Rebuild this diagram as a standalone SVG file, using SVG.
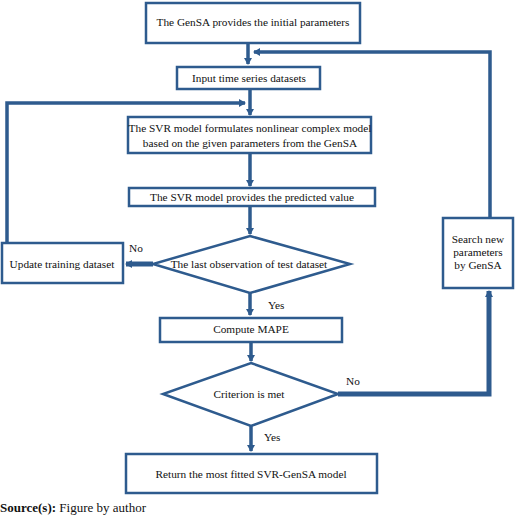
<svg xmlns="http://www.w3.org/2000/svg" width="520" height="520" viewBox="0 0 520 520">
<style>
.box{fill:#fff;stroke:#2e5b8e;stroke-width:2.5}
.ln{fill:none;stroke:#2e5b8e;stroke-width:3.5}
.tk{fill:none;stroke:#2e5b8e;stroke-width:5}
text{font-family:"Liberation Serif","Times New Roman",serif;font-size:11.3px;fill:#111;text-anchor:middle}
.lbl{text-anchor:start}
</style>
<defs>
<marker id="ah" markerWidth="8" markerHeight="8" refX="6" refY="4" orient="auto" markerUnits="userSpaceOnUse">
<path d="M0,0 L7,4 L0,8 Z" fill="#2e5b8e"/>
</marker>
</defs>
<rect width="520" height="520" fill="#fff"/>
<g id="connectors">
<line class="ln" x1="248" y1="43" x2="248" y2="64" marker-end="url(#ah)"/>
<polyline class="ln" points="490,218 490,52 254,52" marker-end="url(#ah)"/>
<line class="ln" x1="250" y1="89" x2="250" y2="115" marker-end="url(#ah)"/>
<polyline class="ln" points="7,243 7,103 245,103" marker-end="url(#ah)"/>
<line class="ln" x1="250" y1="153" x2="250" y2="186" marker-end="url(#ah)"/>
<line class="ln" x1="250" y1="206" x2="250" y2="234" marker-end="url(#ah)"/>
<line class="tk" x1="153" y1="264" x2="126" y2="264" marker-end="url(#ah)"/>
<line class="ln" x1="250" y1="293" x2="250" y2="315" marker-end="url(#ah)"/>
<line class="ln" x1="251" y1="342" x2="251" y2="361" marker-end="url(#ah)"/>
<polyline class="tk" points="338,394 489,394 489,291" marker-end="url(#ah)"/>
<line class="ln" x1="251" y1="426" x2="251" y2="451" marker-end="url(#ah)"/>
</g>
<g id="n1"><rect class="box" x="146" y="3" width="214" height="40"/><text x="253" y="26">The GenSA provides the initial parameters</text></g>
<g id="n2"><rect class="box" x="177" y="67" width="143" height="22"/><text x="249" y="82">Input time series datasets</text></g>
<g id="n3"><rect class="box" x="128" y="117" width="243" height="36"/><text x="250" y="132">The SVR model formulates nonlinear complex model</text><text x="250" y="147">based on the given parameters from the GenSA</text></g>
<g id="n4"><rect class="box" x="129" y="188" width="246" height="18"/><text x="252" y="201">The SVR model provides the predicted value</text></g>
<g id="d1"><polygon class="box" points="250,236 350,264 250,293 153,264"/><text x="249" y="268">The last observation of test dataset</text></g>
<g id="n5"><rect class="box" x="2" y="243" width="121" height="40"/><text x="62" y="268">Update training dataset</text></g>
<g id="n6"><rect class="box" x="443" y="218" width="70" height="70"/><text x="478" y="243">Search new</text><text x="478" y="256">parameters</text><text x="478" y="269">by GenSA</text></g>
<g id="n7"><rect class="box" x="160" y="318" width="182" height="24"/><text x="251" y="333">Compute MAPE</text></g>
<g id="d2"><polygon class="box" points="251,363 338,394 251,426 163,394"/><text x="249" y="398">Criterion is met</text></g>
<g id="n8"><rect class="box" x="126" y="454" width="251" height="39"/><text x="251" y="478">Return the most fitted SVR-GenSA model</text></g>
<g id="labels">
<text class="lbl" x="129" y="252">No</text>
<text class="lbl" x="268" y="309">Yes</text>
<text class="lbl" x="346" y="385">No</text>
<text class="lbl" x="264" y="441">Yes</text>
</g>
<text x="0" y="512" style="text-anchor:start;font-size:13px"><tspan font-weight="bold">Source(s):</tspan> Figure by author</text>
</svg>
